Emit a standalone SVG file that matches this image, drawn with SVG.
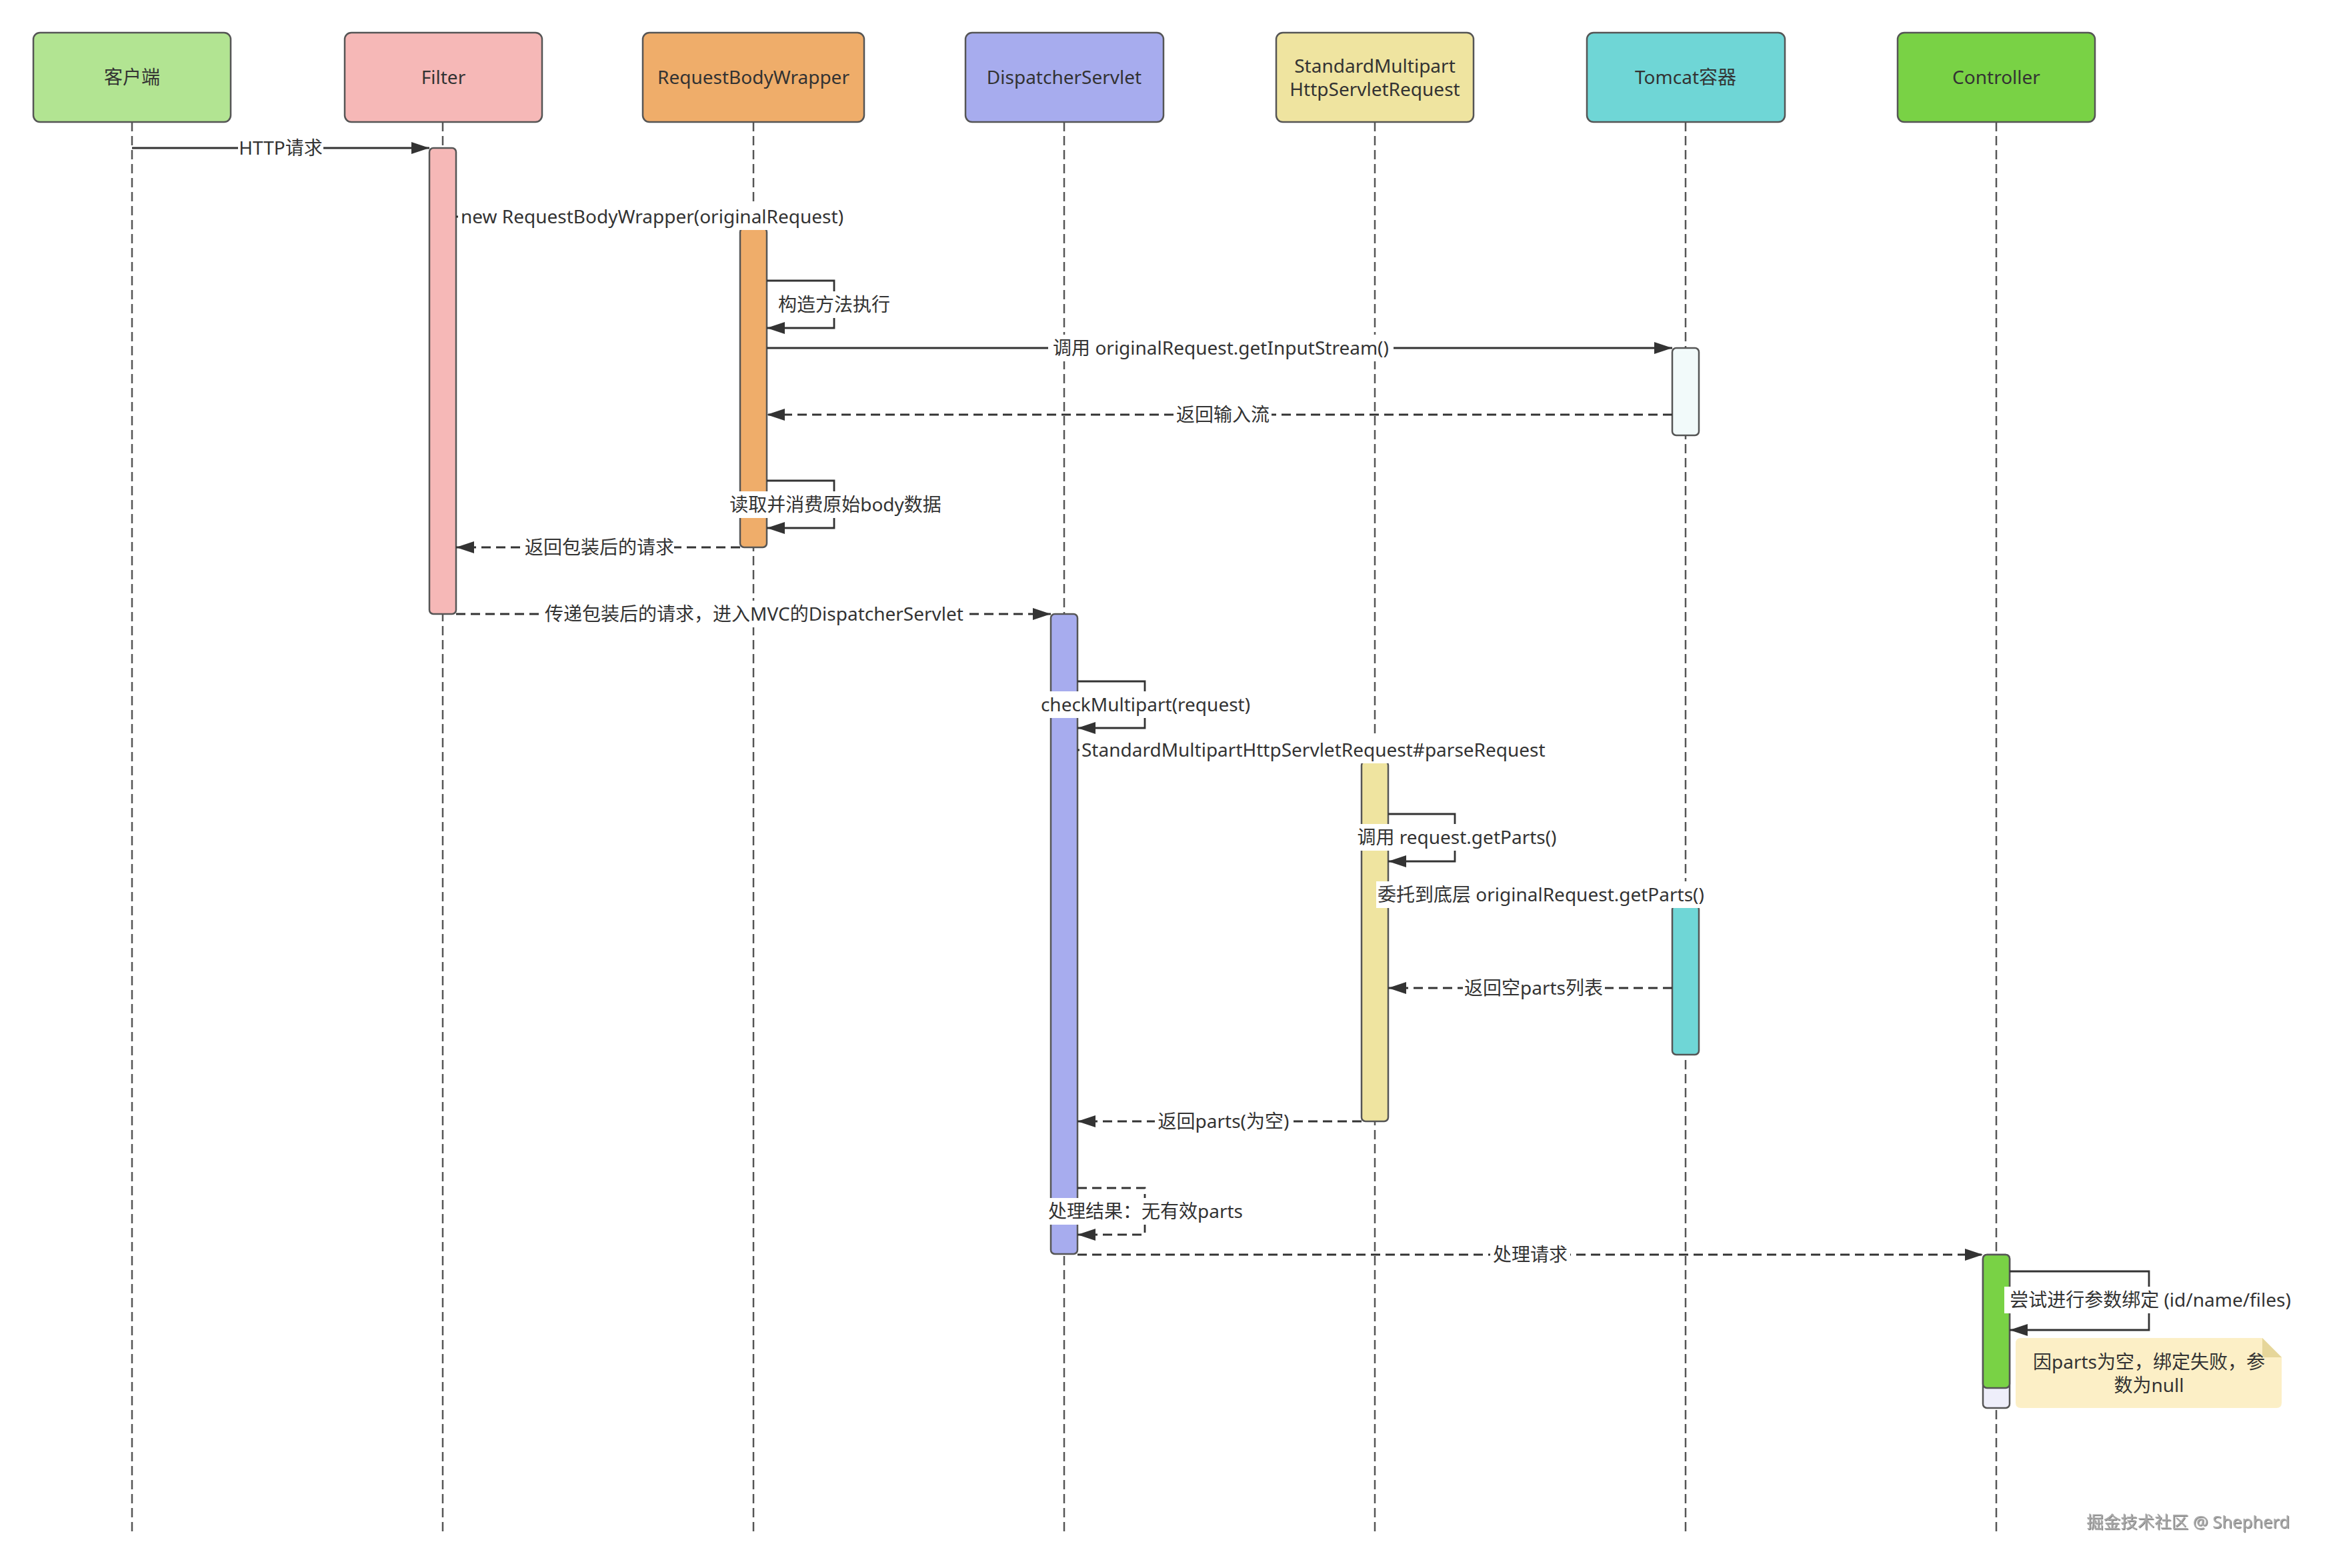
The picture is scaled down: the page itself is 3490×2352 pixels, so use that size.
<svg xmlns="http://www.w3.org/2000/svg" width="3490" height="2352" viewBox="0 0 3490 2352">
<defs>
<marker id="arr" markerUnits="userSpaceOnUse" markerWidth="27" markerHeight="19" refX="27" refY="9.5" orient="auto">
<path d="M0,0.5 L27,9.5 L0,18.5 z" fill="#333"/>
</marker>
<filter id="emb" x="-5%" y="-20%" width="110%" height="140%">
<feDropShadow dx="1.2" dy="1.2" stdDeviation="0.4" flood-color="#555" flood-opacity="0.8"/>
</filter>
</defs>
<style>
.box{stroke:#555;stroke-width:2.5}
.life{stroke:#555;stroke-width:2.5;stroke-dasharray:14 7;fill:none}
.act{stroke:#555;stroke-width:2.5}
.msg{stroke:#333;stroke-width:2.8;fill:none}
.dash{stroke-dasharray:14 8}
.t{font-family:"Noto Sans","Noto Sans CJK SC",sans-serif;font-size:28px;fill:#333}
.c{text-anchor:middle}
.bg{fill:#fff}
</style>
<rect width="3490" height="2352" fill="#fff"/>

<g id="p-client">
<line class="life" x1="198" y1="183" x2="198" y2="2297"/>
<rect class="box" x="50" y="49" width="296" height="134" rx="10" fill="#b2e492"/>
<text class="t c" x="198" y="126">客户端</text>
</g>
<g id="p-filter">
<line class="life" x1="664" y1="183" x2="664" y2="2297"/>
<rect class="box" x="517" y="49" width="296" height="134" rx="10" fill="#f6b8b7"/>
<text class="t c" x="665" y="126">Filter</text>
<rect class="act" x="644" y="222" width="40" height="699" rx="6" fill="#f6b8b7"/>
</g>
<g id="p-wrapper">
<line class="life" x1="1130" y1="183" x2="1130" y2="2297"/>
<rect class="box" x="964" y="49" width="332" height="134" rx="10" fill="#efad6a"/>
<text class="t c" x="1130" y="126">RequestBodyWrapper</text>
<rect class="act" x="1110" y="342" width="40" height="479" rx="6" fill="#efad6a"/>
</g>
<g id="p-dispatcher">
<line class="life" x1="1596" y1="183" x2="1596" y2="2297"/>
<rect class="box" x="1448" y="49" width="297" height="134" rx="10" fill="#a7acee"/>
<text class="t c" x="1596" y="126">DispatcherServlet</text>
<rect class="act" x="1576" y="921" width="40" height="960" rx="6" fill="#a7acee"/>
</g>
<g id="p-multipart">
<line class="life" x1="2062" y1="183" x2="2062" y2="2297"/>
<rect class="box" x="1914" y="49" width="296" height="134" rx="10" fill="#efe4a0"/>
<text class="t c" x="2062" y="109">StandardMultipart</text>
<text class="t c" x="2062" y="144">HttpServletRequest</text>
<rect class="act" x="2042" y="1142" width="40" height="540" rx="6" fill="#efe4a0"/>
</g>
<g id="p-tomcat">
<line class="life" x1="2528" y1="183" x2="2528" y2="2297"/>
<rect class="box" x="2380" y="49" width="297" height="134" rx="10" fill="#6fd6d6"/>
<text class="t c" x="2528" y="126">Tomcat容器</text>
<rect class="act" x="2508" y="522" width="40" height="131" rx="6" fill="#f2fafa"/>
<rect class="act" x="2508" y="1358" width="40" height="224" rx="6" fill="#6fd6d6"/>
</g>
<g id="p-controller">
<line class="life" x1="2994" y1="183" x2="2994" y2="2297"/>
<rect class="box" x="2846" y="49" width="296" height="134" rx="10" fill="#79d245"/>
<text class="t c" x="2994" y="126">Controller</text>
<rect class="act" x="2974" y="1882" width="40" height="230" rx="6" fill="#eeeefa"/>
<rect class="act" x="2974" y="1882" width="40" height="200" rx="6" fill="#79d245"/>
</g>

<g id="connectors">
<path class="msg" d="M198 222 H644" marker-end="url(#arr)"/>
<rect class="bg" x="357" y="202" width="128" height="40"/>
<text class="t c" x="421" y="232">HTTP请求</text>

<path class="msg" d="M684 325 H1110" marker-end="url(#arr)"/>
<rect class="bg" x="687" y="305" width="589" height="40"/>
<text class="t" x="691" y="335">new RequestBodyWrapper(originalRequest)</text>

<path class="msg" d="M1150 421 H1251 V492 H1150" marker-end="url(#arr)"/>
<rect class="bg" x="1166" y="437" width="172" height="40"/>
<text class="t c" x="1251" y="467">构造方法执行</text>

<path class="msg" d="M1150 522 H2508" marker-end="url(#arr)"/>
<rect class="bg" x="1572" y="502" width="518" height="40"/>
<text class="t c" x="1831" y="532">调用 originalRequest.getInputStream()</text>

<path class="msg dash" d="M2508 622 H1150" marker-end="url(#arr)"/>
<rect class="bg" x="1761" y="602" width="146" height="40"/>
<text class="t c" x="1834" y="632">返回输入流</text>

<path class="msg" d="M1150 721 H1251 V792 H1150" marker-end="url(#arr)"/>
<rect class="bg" x="1092" y="737" width="322" height="40"/>
<text class="t c" x="1253" y="767">读取并消费原始body数据</text>

<path class="msg dash" d="M1110 821 H684" marker-end="url(#arr)"/>
<rect class="bg" x="787" y="801" width="224" height="40"/>
<text class="t c" x="899" y="831">返回包装后的请求</text>

<path class="msg dash" d="M684 921 H1576" marker-end="url(#arr)"/>
<rect class="bg" x="816" y="901" width="630" height="40"/>
<text class="t c" x="1131" y="931">传递包装后的请求，进入MVC的DispatcherServlet</text>

<path class="msg" d="M1616 1022 H1717 V1092 H1616" marker-end="url(#arr)"/>
<rect class="bg" x="1556" y="1037" width="324" height="40"/>
<text class="t c" x="1718" y="1067">checkMultipart(request)</text>

<path class="msg" d="M1616 1125 H2042" marker-end="url(#arr)"/>
<rect class="bg" x="1619" y="1105" width="702" height="40"/>
<text class="t" x="1622" y="1135">StandardMultipartHttpServletRequest#parseRequest</text>

<path class="msg" d="M2082 1221 H2182 V1292 H2082" marker-end="url(#arr)"/>
<rect class="bg" x="2032" y="1236" width="306" height="40"/>
<text class="t c" x="2185" y="1266">调用 request.getParts()</text>

<path class="msg" d="M2082 1342 H2508" marker-end="url(#arr)"/>
<rect class="bg" x="2064" y="1322" width="501" height="40"/>
<text class="t" x="2066" y="1352">委托到底层 originalRequest.getParts()</text>

<path class="msg dash" d="M2508 1482 H2082" marker-end="url(#arr)"/>
<rect class="bg" x="2194" y="1462" width="213" height="40"/>
<text class="t c" x="2300" y="1492">返回空parts列表</text>

<path class="msg dash" d="M2042 1682 H1616" marker-end="url(#arr)"/>
<rect class="bg" x="1732" y="1662" width="206" height="40"/>
<text class="t c" x="1835" y="1692">返回parts(为空)</text>

<path class="msg dash" d="M1616 1782 H1717 V1852 H1616" marker-end="url(#arr)"/>
<rect class="bg" x="1571" y="1797" width="295" height="40"/>
<text class="t c" x="1718" y="1827">处理结果：无有效parts</text>

<path class="msg dash" d="M1616 1882 H2974" marker-end="url(#arr)"/>
<rect class="bg" x="2235" y="1862" width="120" height="40"/>
<text class="t c" x="2295" y="1892">处理请求</text>

<path class="msg" d="M3014 1907 H3223 V1995 H3014" marker-end="url(#arr)"/>
<rect class="bg" x="3006" y="1930" width="439" height="40"/>
<text class="t c" x="3225" y="1960">尝试进行参数绑定 (id/name/files)</text>
</g>

<g id="note">
<path d="M3031 2007 H3393 L3422 2036 V2104 Q3422 2112 3414 2112 H3031 Q3023 2112 3023 2104 V2015 Q3023 2007 3031 2007 z" fill="#fcefc6"/>
<path d="M3393 2007 L3422 2036 H3397 Q3393 2036 3393 2032 z" fill="#e6d69a"/>
<text class="t c" x="3223" y="2053">因parts为空，绑定失败，参</text>
<text class="t c" x="3223" y="2088">数为null</text>
</g>

<text x="3434" y="2292" text-anchor="end" font-family="'Noto Sans','Noto Sans CJK SC',sans-serif" font-size="25.5" fill="#a8a8a8" filter="url(#emb)">掘金技术社区 @ Shepherd</text>
</svg>
